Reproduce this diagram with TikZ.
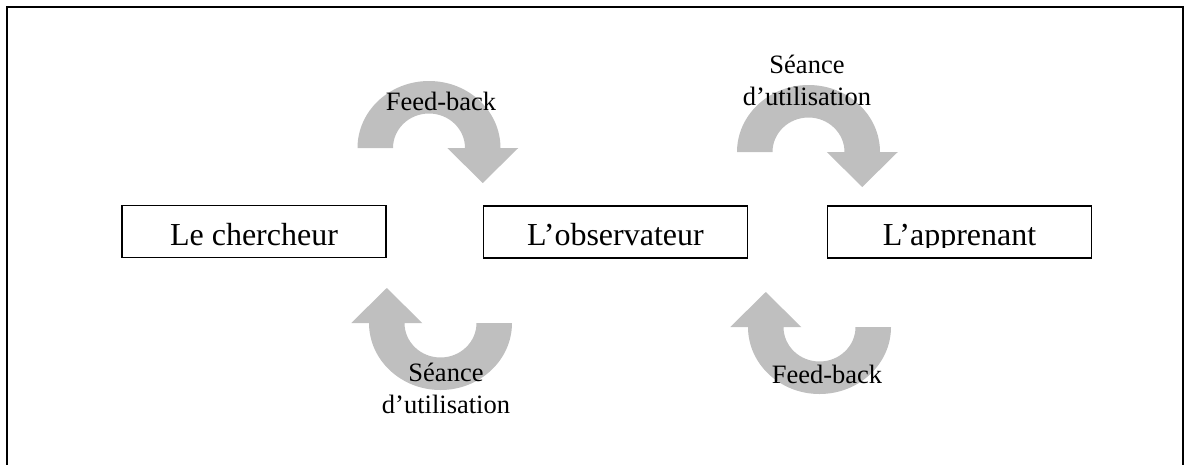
\documentclass[tikz,border=0pt]{standalone}
\usepackage{fontspec}
\setmainfont{Liberation Serif}
\begin{document}
\begin{tikzpicture}[x=1pt,y=1pt,
  frameline/.style={line width=1.6pt},
  rolebox/.style={draw,line width=1.2pt,minimum width=264pt,minimum height=52pt,inner sep=0pt},
  roletext/.style={font=\fontsize{32}{38}\selectfont,inner sep=0pt,anchor=base},
  flowlabel/.style={font=\fontsize{26.5}{32}\selectfont,inner sep=0pt,align=center,anchor=base},
  pics/turnarrow/.style={code={
    \fill[black!25] (-71.5,0) arc[start angle=180,end angle=0,x radius=71.5,y radius=67]
      -- (89.25,0) -- (53.75,-35) -- (18.25,0) -- (36,0)
      arc[start angle=0,end angle=180,x radius=36,y radius=34.5] -- cycle;
  }}]
\useasboundingbox (0,0) rectangle (1186,-464);
\clip (0,0) rectangle (1186,-464);

% outer frame (its lower edge lies below the page)
\draw[frameline] (7,-7) rectangle (1183,-480);

% curved block arrows
\pic at (429,-148) {turnarrow};
\pic at (808.5,-152) {turnarrow};
\pic[rotate=180] at (440.5,-323) {turnarrow};
\pic[rotate=180] at (819.5,-327) {turnarrow};

% the three actors
\node[rolebox] (cherch) at (254,-231.5) {};
\node[roletext] (cherchT) at (254,-245) {Le chercheur};
\node[rolebox] (obs) at (615.5,-232) {};
\node[roletext] (obsT) at (615.5,-245) {L’observateur};
\node[rolebox] (app) at (959.5,-232) {};
\begin{scope}
  \clip (827,-206) rectangle (1092,-247);
  \node[roletext] (appT) at (959.5,-245) {L’apprenant};
\end{scope}

% arrow labels (base anchor sits on the last line)
\node[flowlabel] (fb1) at (441,-110) {Feed-back};
\node[flowlabel] (su1) at (807,-105) {Séance\\d’utilisation};
\node[flowlabel] (su2) at (446,-413) {Séance\\d’utilisation};
\node[flowlabel] (fb2) at (827,-383) {Feed-back};
\end{tikzpicture}
\end{document}
